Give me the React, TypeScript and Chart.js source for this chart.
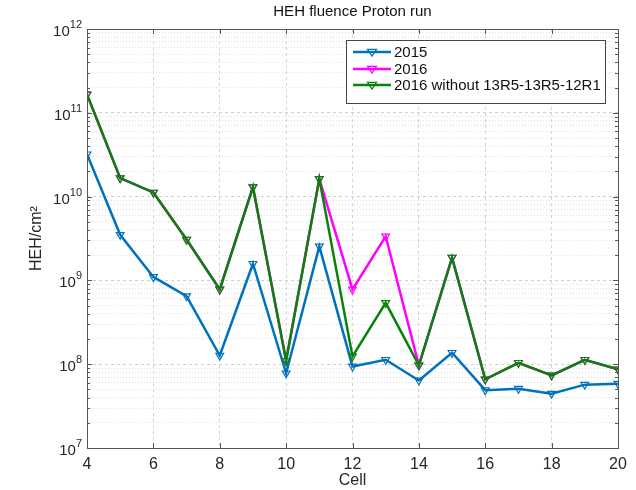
import React, { useEffect, useRef } from 'react';
import { Chart, registerables } from 'chart.js';

Chart.register(...registerables);

const cells = [4, 5, 6, 7, 8, 9, 10, 11, 12, 13, 14, 15, 16, 17, 18, 19, 20];
const fluence2015 = [3.2e10, 3.5e9, 1.1e9, 6.5e8, 1.27e8, 1.58e9, 7.8e7, 2.55e9, 9.4e7, 1.13e8, 6.4e7, 1.37e8, 4.9e7, 5.1e7, 4.45e7, 5.7e7, 5.85e7];
const fluence2016 = [1.66e11, 1.66e10, 1.12e10, 3.07e9, 7.8e8, 1.3e10, 1.1e8, 1.63e10, 7.8e8, 3.36e9, 9.7e7, 1.87e9, 6.6e7, 1.04e8, 7.35e7, 1.13e8, 8.7e7];
const fluence2016Excl = [1.66e11, 1.66e10, 1.12e10, 3.07e9, 7.8e8, 1.3e10, 1.1e8, 1.63e10, 1.24e8, 5.4e8, 9.7e7, 1.87e9, 6.6e7, 1.04e8, 7.35e7, 1.13e8, 8.7e7];
const seriesLabels = ['2015', '2016', '2016 without 13R5-13R5-12R1'];
const seriesColors = ['#0072BD', '#FF00FF', '#0a820a'];
const xTicks = [4, 6, 8, 10, 12, 14, 16, 18, 20];
const decades = [7, 8, 9, 10, 11, 12];
const titleText = 'HEH fluence Proton run';
const xTitle = 'Cell';
const yTitle = 'HEH/cm²';

const FONT = '"Liberation Sans", Arial, sans-serif';

const isDecade = (v: number) => Math.abs(Math.log10(v) - Math.round(Math.log10(v))) < 1e-6;

const decorPlugin = {
  id: 'decor',
  afterDraw(chart: any) {
    const { ctx, chartArea: a, scales } = chart;
    const xs = scales.x;
    const ys = scales.y;
    ctx.save();
    // box
    ctx.strokeStyle = '#555';
    ctx.lineWidth = 1;
    ctx.setLineDash([]);
    ctx.strokeRect(Math.round(a.left) + 0.5, Math.round(a.top) + 0.5, Math.round(a.right - a.left), Math.round(a.bottom - a.top));
    // inward ticks
    ctx.beginPath();
    ys.ticks.forEach((t: any) => {
      const y = Math.round(ys.getPixelForValue(t.value)) + 0.5;
      const len = isDecade(t.value) ? 5 : 3;
      ctx.moveTo(a.left, y); ctx.lineTo(a.left + len, y);
      ctx.moveTo(a.right, y); ctx.lineTo(a.right - len, y);
    });
    xs.ticks.forEach((t: any) => {
      const x = Math.round(xs.getPixelForValue(t.value)) + 0.5;
      ctx.moveTo(x, a.bottom); ctx.lineTo(x, a.bottom - 5);
      ctx.moveTo(x, a.top); ctx.lineTo(x, a.top + 5);
    });
    ctx.stroke();
    // y decade labels: 10 with superscript exponent
    ctx.fillStyle = '#262626';
    ctx.textBaseline = 'alphabetic';
    decades.forEach((d) => {
      const y = ys.getPixelForValue(Math.pow(10, d));
      const exp = String(d);
      ctx.font = `11px ${FONT}`;
      ctx.textAlign = 'right';
      const ew = ctx.measureText(exp).width;
      const right = a.left - 5;
      ctx.fillText(exp, right, y - 1);
      ctx.font = `15px ${FONT}`;
      ctx.fillText('10', right - ew, y + 7);
    });
    // title
    ctx.fillStyle = '#111';
    ctx.font = `15px ${FONT}`;
    ctx.textAlign = 'center';
    ctx.textBaseline = 'middle';
    ctx.fillText(titleText, (a.left + a.right) / 2, a.top - 17);
    // legend
    const lx = 346, ly = 40, lw = 259, lh = 63;
    ctx.fillStyle = '#fff';
    ctx.fillRect(lx, ly, lw, lh);
    ctx.strokeStyle = '#444';
    ctx.lineWidth = 1;
    ctx.strokeRect(lx + 0.5, ly + 0.5, lw, lh);
    const rows = [52, 69, 85];
    seriesLabels.forEach((label, i) => {
      const y = rows[i];
      ctx.strokeStyle = seriesColors[i];
      ctx.lineWidth = 2.5;
      ctx.beginPath();
      ctx.moveTo(353, y); ctx.lineTo(391, y);
      ctx.stroke();
      ctx.lineWidth = 1.2;
      const cx = 372, r = 4.5;
      ctx.beginPath();
      ctx.moveTo(cx - r, y - r * 0.6);
      ctx.lineTo(cx + r, y - r * 0.6);
      ctx.lineTo(cx, y + r * 0.9);
      ctx.closePath();
      ctx.stroke();
      ctx.fillStyle = '#111';
      ctx.font = `15px ${FONT}`;
      ctx.textAlign = 'left';
      ctx.textBaseline = 'middle';
      ctx.fillText(label, 394, y + 1);
    });
    ctx.restore();
  },
};

export default function App() {
  const ref = useRef<HTMLCanvasElement | null>(null);
  useEffect(() => {
    document.body.style.margin = '0';
    const canvas = ref.current;
    if (!canvas) return;
    const mk = (vals: number[], i: number, order: number) => ({
      label: seriesLabels[i],
      data: cells.map((c, k) => ({ x: c, y: vals[k] })),
      borderColor: seriesColors[i],
      backgroundColor: 'rgba(255,255,255,0)',
      borderWidth: 2.5,
      pointStyle: 'triangle',
      pointRotation: 180,
      pointRadius: 4.5,
      pointBorderWidth: 1.2,
      pointBorderColor: seriesColors[i],
      pointBackgroundColor: 'rgba(255,255,255,0)',
      order,
      tension: 0,
    });
    const chart = new Chart(canvas, {
      type: 'line',
      data: {
        datasets: [mk(fluence2015, 0, 1), mk(fluence2016, 1, 2), mk(fluence2016Excl, 2, 0)],
      },
      plugins: [decorPlugin],
      options: {
        animation: false,
        responsive: false,
        devicePixelRatio: 1,
        layout: { padding: { left: 0, right: 18, top: 29, bottom: 0 } },
        plugins: { legend: { display: false }, title: { display: false }, tooltip: { enabled: false } },
        scales: {
          x: {
            type: 'linear',
            min: 4,
            max: 20,
            afterBuildTicks: (s: any) => { s.ticks = xTicks.map((v) => ({ value: v })); },
            afterFit: (s: any) => { s.height = 42; },
            ticks: { color: '#262626', font: { family: FONT, size: 16 }, padding: 7, autoSkip: false, maxRotation: 0 },
            grid: { color: '#d4d4d4', lineWidth: 1, drawTicks: false },
            border: { display: false, dash: [3, 3] },
            title: { display: true, text: xTitle, color: '#262626', font: { family: FONT, size: 16 }, padding: { top: -4, bottom: 0 } },
          },
          y: {
            type: 'logarithmic',
            min: 1e7,
            max: 1e12,
            afterBuildTicks: (s: any) => {
              const t: any[] = [];
              decades.forEach((d) => {
                if (d === 12) { t.push({ value: 1e12 }); return; }
                for (let n = 1; n <= 9; n++) t.push({ value: n * Math.pow(10, d) });
              });
              s.ticks = t;
            },
            afterFit: (s: any) => { s.width = 87; },
            ticks: {
              color: '#262626',
              font: { family: FONT, size: 15 },
              padding: 6,
              autoSkip: false,
              callback: () => '',
            },
            grid: {
              color: (c: any) => (c.tick && isDecade(c.tick.value) ? '#d0d0d0' : '#dedede'),
              lineWidth: 1,
              drawTicks: false,
            },
            border: {
              display: false,
              dash: (c: any) => (c.tick && isDecade(c.tick.value) ? [3, 3] : [1, 2]),
            },
            title: { display: true, text: yTitle, color: '#262626', font: { family: FONT, size: 16 }, padding: { top: 27, bottom: 0 } },
          },
        },
      } as any,
    });
    return () => chart.destroy();
  }, []);
  return (
    <div style={{ width: 636, height: 490 }}>
      <canvas ref={ref} width={636} height={490} style={{ display: 'block', width: 636, height: 490 }} />
    </div>
  );
}
